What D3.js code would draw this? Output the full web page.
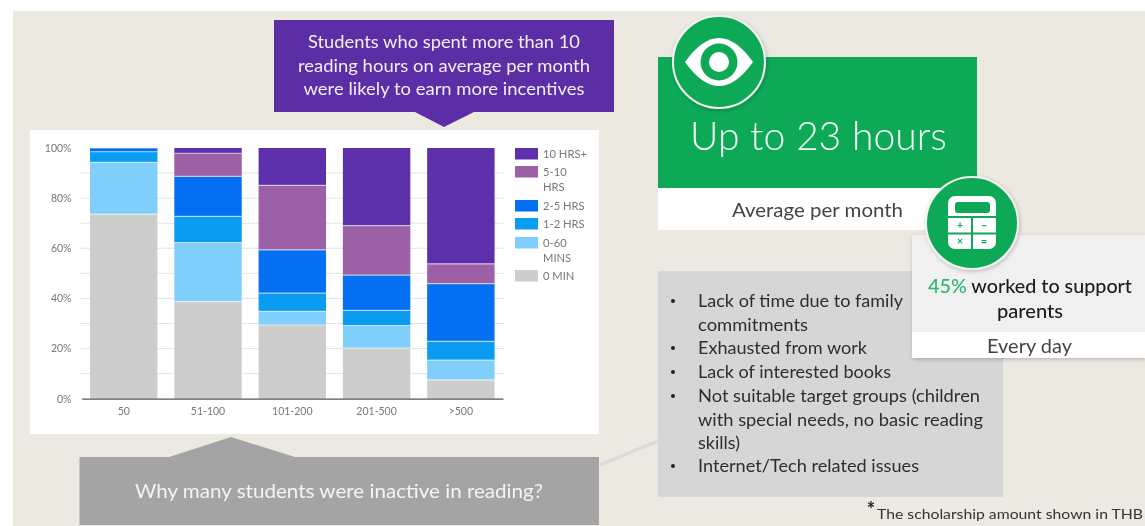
<!DOCTYPE html>
<html><head><meta charset="utf-8">
<script src="https://cdnjs.cloudflare.com/ajax/libs/d3/7.8.5/d3.min.js"></script>
<style>html,body{margin:0;padding:0;background:#fff;overflow:hidden}svg{display:block;filter:blur(0.45px)}text{font-family:Lato,"Open Sans",sans-serif}</style>
</head><body><svg id="c" width="1145" height="526">
<defs><filter id="sh" x="-20%" y="-20%" width="140%" height="140%"><feDropShadow dx="1" dy="1.5" stdDeviation="2" flood-color="#000" flood-opacity="0.22"/></filter></defs>
</svg>
<script>
const categories = ["50","51-100","101-200","201-500",">500"];
const zeroMin   = [73.6,38.7,29.4,20.2,7.5];
const mins0_60  = [20.7,23.6,5.4,9.0,7.9];
const hrs1_2    = [4.2,10.4,7.3,6.0,7.5];
const hrs2_5    = [1.5,16.0,17.3,14.1,23.0];
const hrs5_10   = [0,9.2,25.7,19.7,7.9];
const hrs10plus = [0,2.1,14.9,31.0,46.2];
const seriesNames = ["0 MIN","0-60 MINS","1-2 HRS","2-5 HRS","5-10 HRS","10 HRS+"];
const seriesValues = [zeroMin,mins0_60,hrs1_2,hrs2_5,hrs5_10,hrs10plus];
const seriesColors = ["#cdcdcd","#80cffa","#0a9cf0","#046ff0","#9c60a6","#5b30aa"];
const yTicks = [0,20,40,60,80,100];
const gridTicks = [10,20,30,40,50,60,70,80,90];

const svg = d3.select("#c");
const rect=(x,y,w,h,f)=>svg.append("rect").attr("x",x).attr("y",y).attr("width",w).attr("height",h).attr("fill",f);
const text=(s,x,y,size,fill,anchor="middle",len)=>{const t=svg.append("text").attr("x",x).attr("y",y).attr("font-size",size).attr("fill",fill).attr("text-anchor",anchor).text(s); if(len)t.attr("textLength",len).attr("lengthAdjust","spacingAndGlyphs"); return t;};

rect(13,11,1132,515,"#ece9e1");

// purple callout
svg.append("path").attr("d","M274 20H614V112H474L444 127L415 112H274Z").attr("fill","#5b2ea6");
["Students who spent more than 10","reading hours on average per month","were likely to earn more incentives"].forEach((s,i)=>
  text(s,444,[48,72,95][i],17.5,"#f3eef8","middle",[272,292,281][i]));

// chart card
rect(30,130,569,304,"#fff");
const x = d3.scaleBand().domain(categories).range([81.6,503]).paddingInner(0.2).paddingOuter(0.1);
const y = d3.scaleLinear().domain([0,100]).range([398.7,148]);

svg.append("g").selectAll("line").data(gridTicks).join("line")
  .attr("x1",80.5).attr("x2",504).attr("y1",d=>y(d)).attr("y2",d=>y(d)).attr("stroke","#e4e4e4");

const stackData = categories.map((c,i)=>{const o={cat:c};seriesNames.forEach((n,j)=>o[n]=seriesValues[j][i]);return o;});
const stacked = d3.stack().keys(seriesNames)(stackData);
svg.append("g").selectAll("g").data(stacked).join("g").attr("fill",(d,i)=>seriesColors[i])
  .selectAll("rect").data(d=>d.filter(p=>p[1]>p[0])).join("rect")
  .attr("x",d=>x(d.data.cat)).attr("width",x.bandwidth())
  .attr("y",d=>y(d[1])).attr("height",d=>y(d[0])-y(d[1]));
// light separators between stacked segments
svg.append("g").selectAll("g").data(stacked.slice(0,5)).join("g")
  .selectAll("line").data(d=>d.filter(p=>p[1]>p[0])).join("line")
  .attr("x1",d=>x(d.data.cat)).attr("x2",d=>x(d.data.cat)+x.bandwidth())
  .attr("y1",d=>y(d[1])).attr("y2",d=>y(d[1])).attr("stroke","#fff").attr("stroke-opacity",0.6).attr("stroke-width",1.2);

const yAxis = svg.append("g").attr("transform","translate(80.5,0)")
  .call(d3.axisLeft(y).tickValues(yTicks).tickFormat(d=>d+"%").tickSize(0).tickPadding(9));
yAxis.select(".domain").remove();
yAxis.selectAll("text").attr("font-family","Roboto").attr("font-size",10.5).attr("fill","#777");
const xAxis = svg.append("g").attr("transform","translate(0,398.7)")
  .call(d3.axisBottom(x).tickSize(0).tickPadding(9));
xAxis.select(".domain").attr("stroke","#555").attr("stroke-width",1.2);
xAxis.selectAll("text").attr("font-family","Roboto").attr("font-size",10.5).attr("fill","#777");

// legend (top to bottom)
const legendY = [148,166,200,218,237,270];
const legendLines = [["10 HRS+"],["5-10","HRS"],["2-5 HRS"],["1-2 HRS"],["0-60","MINS"],["0 MIN"]];
const legendColors = seriesColors.slice().reverse();
legendY.forEach((ly,i)=>{
  rect(515,ly,23,11.5,legendColors[i]);
  legendLines[i].forEach((s,k)=>text(s,543,ly+9.5+k*15,11.2,"#777","start").attr("font-family","Roboto"));
});

// why callout
svg.append("path").attr("d","M600 465L660 440").attr("stroke","#dcdad3").attr("stroke-width",3);
svg.append("path").attr("d","M79.5 457H169L231 437L295 457H599V525H79.5Z").attr("fill","#a4a4a4");
text("Why many students were inactive in reading?",339,498,20,"#f4f4f4","middle",408);

// grey list box
rect(658,271,345,226,"#d6d6d6");
const bullets=[["Lack of time due to family",301,1,205],["commitments",325,0,110],["Exhausted from work",348,1,169],["Lack of interested books",372,1,193],["Not suitable target groups (children",396,1,282],["with special needs, no basic reading",420,0,285],["skills)",443,0,42],["Internet/Tech related issues",466,1,221]];
bullets.forEach(([s,by,b,len])=>{
  text(s,698,by+5.5,17.5,"#2e2e2e","start",len);
  if(b) svg.append("circle").attr("cx",673).attr("cy",by).attr("r",2).attr("fill","#222");
});

// green panel
rect(658,57,319,131,"#0ea957");
rect(658,188,319,42,"#fff");
text("Up to 23 hours",818.5,150,40,"#f2fbf5","middle",257).attr("font-weight",300);
text("Average per month",817.5,217,19,"#444","middle",171);

// eye icon
svg.append("circle").attr("cx",719).attr("cy",62).attr("r",46).attr("fill","#0ea957").attr("stroke","#f4f4ee").attr("stroke-width",2).attr("filter","url(#sh)");
svg.append("path").attr("d","M685 62Q702 38 719 38Q736 38 753 62Q736 86 719 86Q702 86 685 62Z").attr("fill","#fff");
svg.append("circle").attr("cx",719).attr("cy",62).attr("r",18.5).attr("fill","#0ea957");
svg.append("circle").attr("cx",719).attr("cy",62).attr("r",10).attr("fill","#fff");

// light panel
rect(912,235,233,123,"#f0f0f0").attr("filter","url(#sh)");
rect(912,332,233,26,"#fff");
const t45=text("",1030,292.5,19,"#1c1c1c","middle",204).attr("font-weight",500);
t45.append("tspan").attr("fill","#2fb673").text("45% ");
t45.append("tspan").attr("fill","#1c1c1c").text("worked to support");
text("parents",1030,318,19,"#1c1c1c","middle",66).attr("font-weight",500);
text("Every day",1029.5,353,19,"#444","middle",85);

// calculator icon
svg.append("circle").attr("cx",972).attr("cy",223).attr("r",46).attr("fill","#0ea957").attr("stroke","#f4f4ee").attr("stroke-width",2).attr("filter","url(#sh)");
rect(948,196,48,53,"#fff").attr("rx",7);
rect(955,202,35,11,"#0ea957").attr("rx",3);
rect(948,216,48,2,"#0ea957");
rect(948,232.5,48,2,"#0ea957");
rect(971,216,2,33,"#0ea957");
const keyLabels=[["+",960,229],["\u2212",984,229],["\u00d7",960,245],["=",984,245]];
keyLabels.forEach(([s,kx,ky])=>text(s,kx,ky,10.5,"#0ea957").attr("font-weight",700));

// footnote
text("*",871,517,20,"#222").attr("font-weight",700);
text("The scholarship amount shown in THB",877,519,14,"#333","start",266);
</script></body></html>
